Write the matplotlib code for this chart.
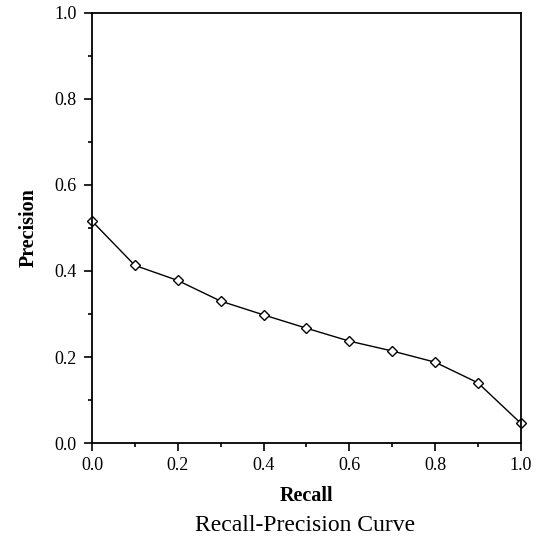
import matplotlib.pyplot as plt
from matplotlib.ticker import MultipleLocator

plt.rcParams['font.family'] = ['Liberation Serif', 'DejaVu Serif']

recall = [0.0, 0.1, 0.2, 0.3, 0.4, 0.5, 0.6, 0.7, 0.8, 0.9, 1.0]
precision = [0.516, 0.413, 0.378, 0.330, 0.298, 0.267, 0.237, 0.214, 0.188, 0.140, 0.046]

fig = plt.figure(figsize=(5.38, 5.4), dpi=100)
ax = fig.add_axes([0.171, 0.1796, 0.797, 0.7964])
ax.plot(recall, precision, color="black", linewidth=1.0, marker="D", markersize=5.5,
        markerfacecolor="white", markeredgecolor="black", markeredgewidth=1.0, clip_on=False)

ax.set_xlim(0, 1)
ax.set_ylim(0, 1)
ax.xaxis.set_major_locator(MultipleLocator(0.2))
ax.xaxis.set_minor_locator(MultipleLocator(0.1))
ax.yaxis.set_major_locator(MultipleLocator(0.2))
ax.yaxis.set_minor_locator(MultipleLocator(0.1))
ax.xaxis.set_major_formatter(lambda v, p: f"{v:.1f}")
ax.yaxis.set_major_formatter(lambda v, p: f"{v:.1f}")
ax.tick_params(which="major", direction="out", length=6, width=1.2, labelsize=13)
ax.tick_params(axis="y", which="major", pad=5)
ax.tick_params(axis="x", which="major", pad=4)
ax.tick_params(which="minor", direction="out", length=3, width=1.2)
for s in ax.spines.values():
    s.set_linewidth(1.3)

ax.set_xlabel("Recall", fontsize=14.5, fontweight="bold", labelpad=9)
ax.set_ylabel("Precision", fontsize=14.5, fontweight="bold", labelpad=11)
fig.text(0.567, 0.0265, "Recall-Precision Curve", ha="center", va="center", fontsize=17)

fig.savefig("out.png", dpi=100)
